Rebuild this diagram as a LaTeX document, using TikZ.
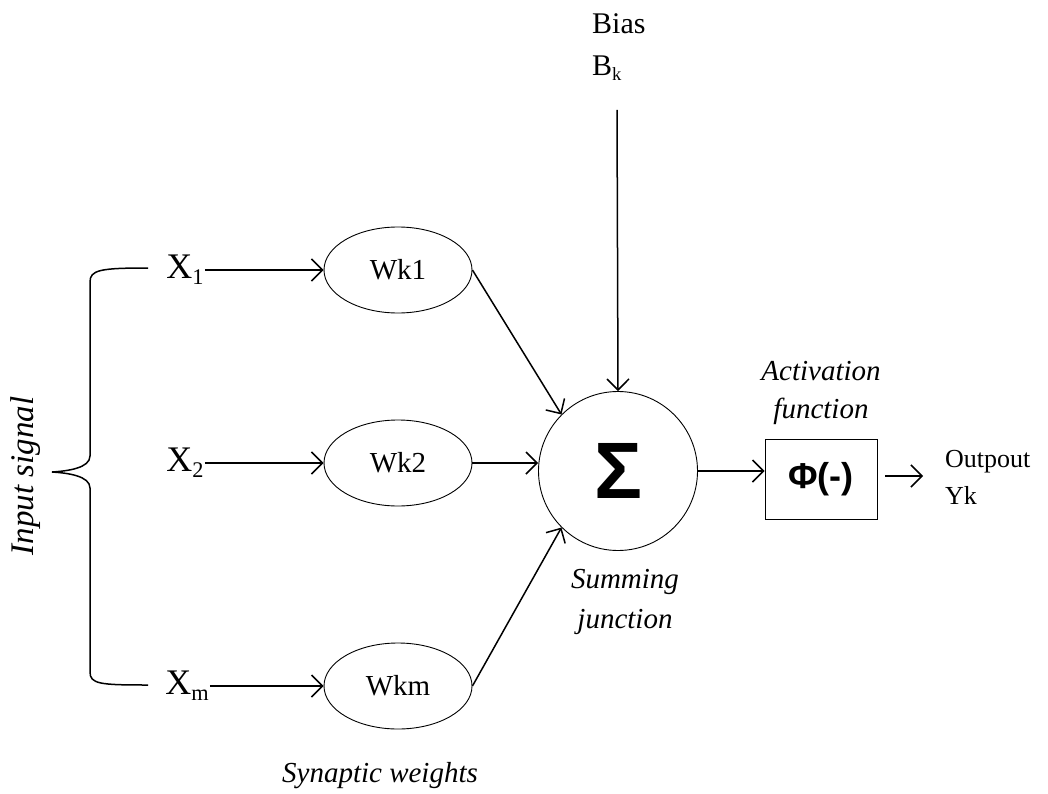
\documentclass[tikz,border=0pt]{standalone}
\usepackage{fontspec}
\setmainfont{Liberation Serif}
\newfontfamily\arialfont{Liberation Sans}
\usetikzlibrary{arrows.meta,shapes.geometric}
\newcommand{\lowsub}[1]{\raisebox{-0.35ex}{\scalebox{0.62}{#1}}}
\tikzset{
  conn/.style={line width=1.5pt,-{Straight Barb[length=11pt,width=22pt,line width=1.5pt]}},
  weight/.style={ellipse,draw,line width=0.9pt,minimum width=148pt,minimum height=86pt,inner sep=0pt,font=\fontsize{29}{30}\selectfont},
  xin/.style={font=\fontsize{36}{38}\selectfont,inner sep=1pt},
  lbl/.style={font=\fontsize{29}{40}\selectfont\itshape,align=center},
  plain/.style={font=\fontsize{30}{42}\selectfont,align=left}
}
\begin{document}
\begin{tikzpicture}[x=1pt,y=-1pt]
\useasboundingbox (0,0) rectangle (1048,794);

% input brace
\draw[line width=1.5pt] (148,268) .. controls (100,268) and (90,270) .. (90,282)
  -- (90,456) .. controls (90,468) and (68,471) .. (52,472)
  .. controls (68,473) and (90,476) .. (90,488)
  -- (90,672) .. controls (90,684) and (100,685) .. (148,685);
\node[rotate=90,font=\fontsize{33}{36}\selectfont\itshape] (insig) at (26,476) {Input signal};

% inputs
\node[xin] (x1) at (185,270) {X\lowsub{1}};
\node[xin] (x2) at (185,463) {X\lowsub{2}};
\node[xin] (xm) at (187,686) {X\lowsub{m}};

% synaptic weights
\node[weight] (w1) at (398,270) {Wk1};
\node[weight] (w2) at (398,463) {Wk2};
\node[weight] (wm) at (398,686) {Wkm};
\node[font=\fontsize{29}{30}\selectfont\itshape] (syn) at (380,776) {Synaptic weights};

% summing junction
\node[circle,draw,line width=0.9pt,minimum size=159pt,inner sep=0pt,
      font=\arialfont\bfseries\fontsize{80}{80}\selectfont] (sum) at (618,471) {\raisebox{-3pt}{Σ}};
\node[lbl] (sumlbl) at (625,602) {Summing\\junction};

% bias
\node[plain,anchor=west,inner sep=0pt] (bias) at (592,47) {Bias\\B\lowsub{k}};
\coordinate (btop) at (617,110);

% activation
\node[draw,line width=0.9pt,minimum width=112pt,minimum height=80pt,inner sep=0pt,
      font=\arialfont\bfseries\fontsize{36}{36}\selectfont] (act) at (821,479) {Φ(-)};
\node[lbl,font=\fontsize{29}{38}\selectfont\itshape] (actlbl) at (821,393) {Activation\\function};

% output
\node[plain,anchor=west,inner sep=0pt,font=\fontsize{26}{37}\selectfont] (out) at (945,477) {Outpout\\Yk};
\coordinate (outend) at (923,476);
\coordinate (outstart) at (885,476);

% connectors
\draw[conn] (x1.east) -- (w1.west);
\draw[conn] (x2.east) -- (w2.west);
\draw[conn] (xm.east) -- (wm.west);
\draw[conn] (w1.east) -- (sum.135);
\draw[conn] (w2.east) -- (sum.west |- w2.east);
\draw[conn] (wm.east) -- (sum.-135);
\draw[conn] (btop) -- (sum.north);
\draw[conn] (sum.east) -- (act.west |- sum.east);
\draw[conn] (outstart) -- (outend);
\end{tikzpicture}
\end{document}
